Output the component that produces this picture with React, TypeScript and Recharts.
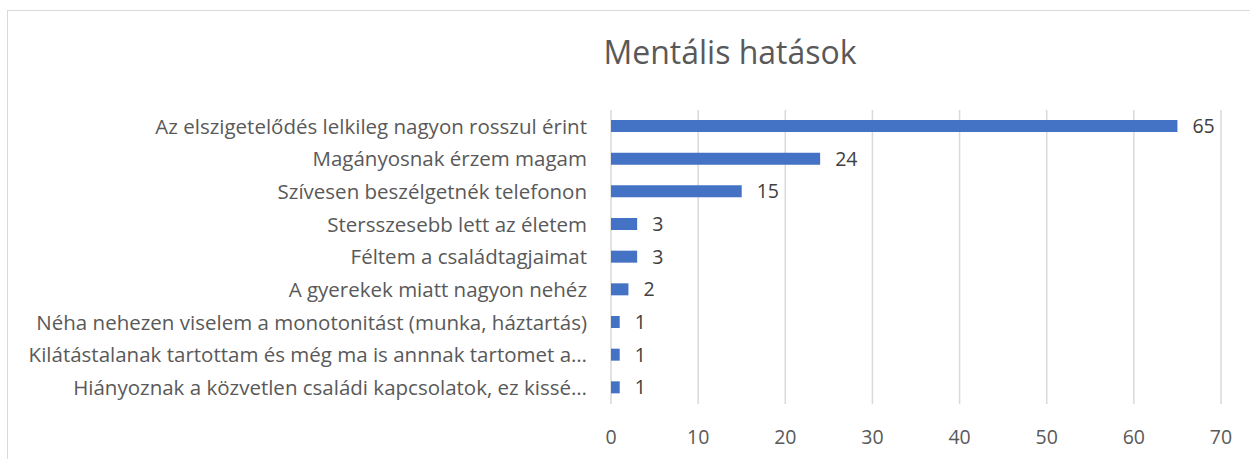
import React from 'react';
import { BarChart, Bar, XAxis, YAxis, CartesianGrid, LabelList } from 'recharts';

const categories = [
  'Az elszigetelődés lelkileg nagyon rosszul érint',
  'Magányosnak érzem magam',
  'Szívesen beszélgetnék telefonon',
  'Stersszesebb lett az életem',
  'Féltem a családtagjaimat',
  'A gyerekek miatt nagyon nehéz',
  'Néha nehezen viselem a monotonitást (munka, háztartás)',
  'Kilátástalanak tartottam és még ma is annnak tartomet a…',
  'Hiányoznak a közvetlen családi kapcsolatok, ez kissé…',
];

const counts = [65, 24, 15, 3, 3, 2, 1, 1, 1];

const xTicks = [0, 10, 20, 30, 40, 50, 60, 70];

const data = categories.map((name, i) => ({ name, value: counts[i] }));

const font = '"Open Sans", sans-serif';

const App: React.FC = () => {
  return (
    <div style={{ position: 'absolute', left: 0, top: 0, width: 1250, height: 459, overflow: 'hidden', background: '#fff', fontFamily: font }}>
      <div
        style={{
          position: 'absolute',
          left: 7,
          top: 10,
          width: 1270,
          height: 480,
          border: '1.5px solid #d9d9d9',
        }}
      />
      <div
        style={{
          position: 'absolute',
          left: 480,
          width: 500,
          top: 30,
          textAlign: 'center',
          fontSize: 32,
          color: '#595959',
          lineHeight: '44px',
        }}
      >
        Mentális hatások
      </div>
      <div style={{ position: 'absolute', left: 0, top: 0 }}>
        <BarChart
          width={1250}
          height={459}
          data={data}
          layout="vertical"
          margin={{ top: 110, right: 29, left: 0, bottom: 25 }}
        >
          <CartesianGrid horizontal={false} stroke="#d9d9d9" strokeWidth={1.5} />
          <XAxis
            type="number"
            domain={[0, 70]}
            ticks={xTicks}
            axisLine={false}
            tickLine={false}
            tickMargin={20}
            height={30}
            tick={{ fill: '#595959', fontSize: 19.5, fontFamily: font }}
          />
          <YAxis
            type="category"
            dataKey="name"
            width={611}
            axisLine={false}
            tickLine={false}
            tickMargin={18}
            interval={0}
            tick={{ fill: '#595959', fontSize: 20.5, fontFamily: font }}
          />
          <Bar dataKey="value" fill="#4472c4" barSize={12} isAnimationActive={false}>
            <LabelList
              dataKey="value"
              position="right"
              offset={15}
              style={{ fill: '#404040', fontSize: 19.5, fontFamily: font }}
            />
          </Bar>
        </BarChart>
      </div>
    </div>
  );
};

export default App;
